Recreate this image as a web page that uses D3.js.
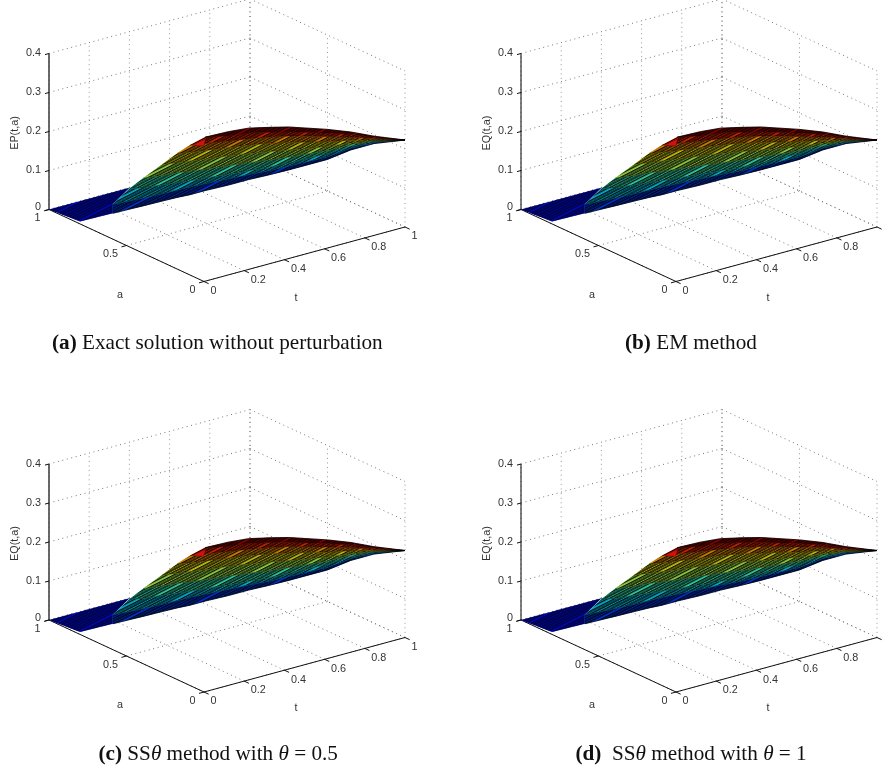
<!DOCTYPE html>
<html>
<head>
<meta charset="utf-8">
<script src="https://cdn.jsdelivr.net/npm/d3@7"></script>
<style>
  html, body { margin: 0; background: #fff; }
  svg { display: block; filter: blur(0.4px); }
  text { font-family: "Liberation Sans", sans-serif; font-size: 10.8px; fill: #333; }
  .caption { font-family: "Liberation Serif", serif; font-size: 21.2px; fill: #111; }
</style>
</head>
<body>
<svg id="chart" width="883" height="772"></svg>
<script>
// axis ticks
const tTicks = [0, 0.2, 0.4, 0.6, 0.8, 1];
const aTicks = [0, 0.5, 1];
const zTicks = [0, 0.1, 0.2, 0.3, 0.4];
// the right hand panels lose the last t label at the page edge
const tLabelsLeft = [0, 0.2, 0.4, 0.6, 0.8, 1];
const tLabelsRight = [0, 0.2, 0.4, 0.6, 0.8];

// the surface: each column has a (t, a) foot, each row a height per column.
// rows start late on the left, so they are lined up with the right end of the columns
const tCols = [0.125, 0.21, 0.275, 0.37, 0.445, 0.51, 0.585, 0.7, 0.8, 0.9, 1, 1, 1, 1, 1];
const aCols = [0.75, 0.75, 0.75, 0.75, 0.75, 0.75, 0.75, 0.75, 0.75, 0.75, 0.75, 0.5, 0.35, 0.2, 0];
const zRow0 = [.019, .018, .017, .016, .015, .013, .013, .011, .011, .009, .008, .081, .133, .177, .223];
const zRow1 = [.042, .039, .037, .035, .034, .033, .031, .027, .024, .020, .018, .088, .138, .180, .223];
const zRow2 = [.071, .063, .058, .053, .049, .045, .039, .034, .029, .026, .096, .143, .182, .223];
const zRow3 = [.088, .082, .078, .073, .068, .061, .054, .047, .041, .104, .147, .184, .223];
const zRow4 = [.110, .104, .099, .094, .086, .078, .069, .059, .114, .151, .185, .223];
const zRow5 = [.128, .122, .116, .107, .100, .090, .078, .127, .158, .187, .223];
const zRow6 = [.140, .134, .124, .116, .106, .095, .140, .166, .190, .223];
const zRow7 = [.150, .137, .131, .119, .106, .149, .173, .193, .223];
const zRow8 = [.150, .148, .143, .131, .118, .158, .179, .196, .223];
const zRows = [zRow0, zRow1, zRow2, zRow3, zRow4, zRow5, zRow6, zRow7, zRow8];
// colour value of the band between two rows
const bandLevels = [0.18, 0.34, 0.43, 0.55, 0.63, 0.72, 0.84, 0.96];

// the flat blue part at the far left
const flatT = [0, 0.4, 0.125, 0.125, 0];
const flatA = [1, 1, 0.75, 0.75, 0.8];
const flatZ = [0, 0, 0.042, 0.019, 0.006];
const flatLevel = 0.09;

// the small bright red facet near the top
const peakT = [0.52, 0.585, 0.5775];
const peakA = [0.75, 0.75, 0.75];
const peakZ = [0.138, 0.145, 0.129];

const panelLabels = ['EP(t,a)', 'EQ(t,a)', 'EQ(t,a)', 'EQ(t,a)'];
const panelX = [49, 521, 49, 521];
const panelY = [209.5, 209.5, 620, 620];
const captionX = [52, 625, 98.5, 575.5];
const captionY = [349, 349, 759.5, 759.5];
const captions = [
  [['(a)', 'b'], [' Exact solution without perturbation', '']],
  [['(b)', 'b'], [' EM method', '']],
  [['(c)', 'b'], [' SS', ''], ['θ', 'i'], [' method with ', ''], ['θ', 'i'], [' = 0.5', '']],
  [['(d)', 'b'], ['\u00a0 SS', ''], ['θ', 'i'], [' method with ', ''], ['θ', 'i'], [' = 1', '']]
];

// oblique view: t and a each move the point in x and y, z only in y
const xFromT = d3.scaleLinear().domain([0, 1]).range([0, 201]);
const xFromA = d3.scaleLinear().domain([1, 0]).range([0, 155]);
const yFromT = d3.scaleLinear().domain([0, 1]).range([0, -54.5]);
const yFromA = d3.scaleLinear().domain([1, 0]).range([0, 72]);
const yFromZ = d3.scaleLinear().domain([0, 0.4]).range([0, -156]);
const px = (t, a) => xFromT(t) + xFromA(a);
const py = (t, a, z) => yFromT(t) + yFromA(a) + yFromZ(z);

const jet = d3.scaleSequential(d3.interpolateRgbBasis(
  ['#00007f', '#0000ff', '#007fff', '#00ffff', '#7fff7f', '#ffff00', '#ff7f00', '#ff0000', '#7f0000']));

const line3d = d3.line().x((d) => px(d[0], d[1])).y((d) => py(d[0], d[1], d[2]));

const svg = d3.select('#chart');
const defs = svg.append('defs');

// fine hatch for the dense mesh, the narrow gap gives the light slivers
bandLevels.concat([flatLevel]).forEach((level, i) => {
  const pat = defs.append('pattern')
    .attr('id', `hatch${i}`)
    .attr('patternUnits', 'userSpaceOnUse')
    .attr('width', 4.4)
    .attr('height', 17.6)
    .attr('patternTransform', `rotate(-27) translate(${i * 3}, ${i * 5.3})`);
  pat.append('rect').attr('width', 4.4).attr('height', 17.6).attr('fill', '#000').attr('opacity', 0.18);
  d3.range(7).forEach((k) => {
    pat.append('rect').attr('x', 0).attr('y', k * 2.4).attr('width', 4.4).attr('height', 1.45).attr('fill', '#000');
  });
  d3.range(2).forEach((k) => {
    pat.append('rect').attr('x', k * 2.2).attr('y', 0).attr('width', 0.6).attr('height', 15.8).attr('fill', '#000').attr('opacity', 0.7);
  });
});

function rowPoints(row) {
  const shift = tCols.length - row.length;
  return row.map((z, i) => [tCols[i + shift], aCols[i + shift], z]);
}

function drawPanel(p) {
  const g = svg.append('g').attr('transform', `translate(${panelX[p]},${panelY[p]})`);

  // dotted grid on the two back walls and the floor
  const grid = g.append('g').attr('fill', 'none').attr('stroke-width', 1).attr('stroke-dasharray', '1 3.6');
  const seg = (p1, p2, colour) => grid.append('path').attr('d', line3d([p1, p2])).attr('stroke', colour || '#777');
  zTicks.forEach((z) => {
    seg([0, 1, z], [1, 1, z]);
    seg([1, 1, z], [1, 0, z]);
  });
  tTicks.forEach((t) => {
    seg([t, 1, 0], [t, 1, 0.4], t === 1 ? '#333' : '#999');
    seg([t, 1, 0], [t, 0, 0]);
  });
  aTicks.forEach((a) => {
    if (a < 1) seg([1, a, 0], [1, a, 0.4], '#999');
    seg([0, a, 0], [1, a, 0]);
  });

  // axes
  const axisColour = p % 2 === 0 ? '#444' : '#000';
  const axes = g.append('g').attr('fill', 'none').attr('stroke', '#111').attr('stroke-width', 1);
  axes.append('path').attr('d', line3d([[0, 1, 0], [0, 1, 0.4]])).attr('stroke', axisColour).attr('stroke-width', p % 2 === 0 ? 1.6 : 1);
  axes.append('path').attr('d', line3d([[0, 1, 0], [0, 0, 0]]));
  axes.append('path').attr('d', line3d([[0, 0, 0], [1, 0, 0]]));
  zTicks.forEach((z) => axes.append('path').attr('d', line3d([[0, 1, z], [-0.02, 1, z]])));
  tTicks.forEach((t) => axes.append('path').attr('d', line3d([[t, 0, 0], [t, -0.03, 0]])));
  aTicks.forEach((a) => axes.append('path').attr('d', line3d([[0, a, 0], [-0.025, a, 0]])));

  // tick labels
  zTicks.forEach((z) => g.append('text').text(z)
    .attr('x', px(0, 1) - 8).attr('y', py(0, 1, z) - (z === 0 ? 2 : 0))
    .attr('text-anchor', 'end').attr('dominant-baseline', 'middle'));
  (p % 2 === 0 ? tLabelsLeft : tLabelsRight).forEach((t) => g.append('text').text(t)
    .attr('x', px(t, 0) + 6.5).attr('y', py(t, 0, 0) + 9.5)
    .attr('dominant-baseline', 'middle'));
  aTicks.forEach((a) => g.append('text').text(a)
    .attr('x', px(0, a) - 8.5).attr('y', py(0, a, 0) + 9)
    .attr('text-anchor', 'end').attr('dominant-baseline', 'middle'));

  // axis titles
  g.append('text').text(panelLabels[p]).attr('transform', 'translate(-34,-76.5) rotate(-90)')
    .attr('text-anchor', 'middle').attr('dominant-baseline', 'middle');
  g.append('text').text('a').attr('x', 71).attr('y', 85.5).attr('text-anchor', 'middle').attr('dominant-baseline', 'middle');
  g.append('text').text('t').attr('x', 247).attr('y', 88.5).attr('text-anchor', 'middle').attr('dominant-baseline', 'middle');

  // flat part
  const flat = flatT.map((t, i) => [t, flatA[i], flatZ[i]]);
  const flatPath = line3d(flat) + 'Z';
  g.append('path').attr('d', flatPath).attr('fill', jet(flatLevel));
  g.append('path').attr('d', flatPath).attr('fill', `url(#hatch${bandLevels.length})`).attr('opacity', 0.75);

  // one band between each pair of rows
  bandLevels.forEach((level, i) => {
    const lower = rowPoints(zRows[i]);
    const upper = rowPoints(zRows[i + 1]).reverse();
    const d = line3d(lower.concat(upper)) + 'Z';
    g.append('path').attr('d', d).attr('fill', jet(level)).attr('stroke', jet(level)).attr('stroke-width', 0.3);
    g.append('path').attr('d', d).attr('fill', `url(#hatch${i})`).attr('opacity', 0.92);
  });

  // darker row lines and outline
  zRows.forEach((row, i) => {
    g.append('path').attr('d', line3d(rowPoints(row))).attr('fill', 'none').attr('stroke', '#000')
      .attr('stroke-width', i === 0 || i === zRows.length - 1 ? 1 : 0.6).attr('stroke-opacity', 0.75);
  });

  // the red facet
  const peak = peakT.map((t, i) => [t, peakA[i], peakZ[i]]);
  g.append('path').attr('d', line3d(peak) + 'Z').attr('fill', '#d41010').attr('stroke', '#700').attr('stroke-width', 0.3);
}

d3.range(4).forEach(drawPanel);

// captions
captions.forEach((parts, p) => {
  const label = svg.append('text').attr('class', 'caption').attr('x', captionX[p]).attr('y', captionY[p]);
  parts.forEach(([str, style]) => {
    label.append('tspan').text(str)
      .attr('font-weight', style === 'b' ? 'bold' : null)
      .attr('font-style', style === 'i' ? 'italic' : null);
  });
});
</script>
</body>
</html>
